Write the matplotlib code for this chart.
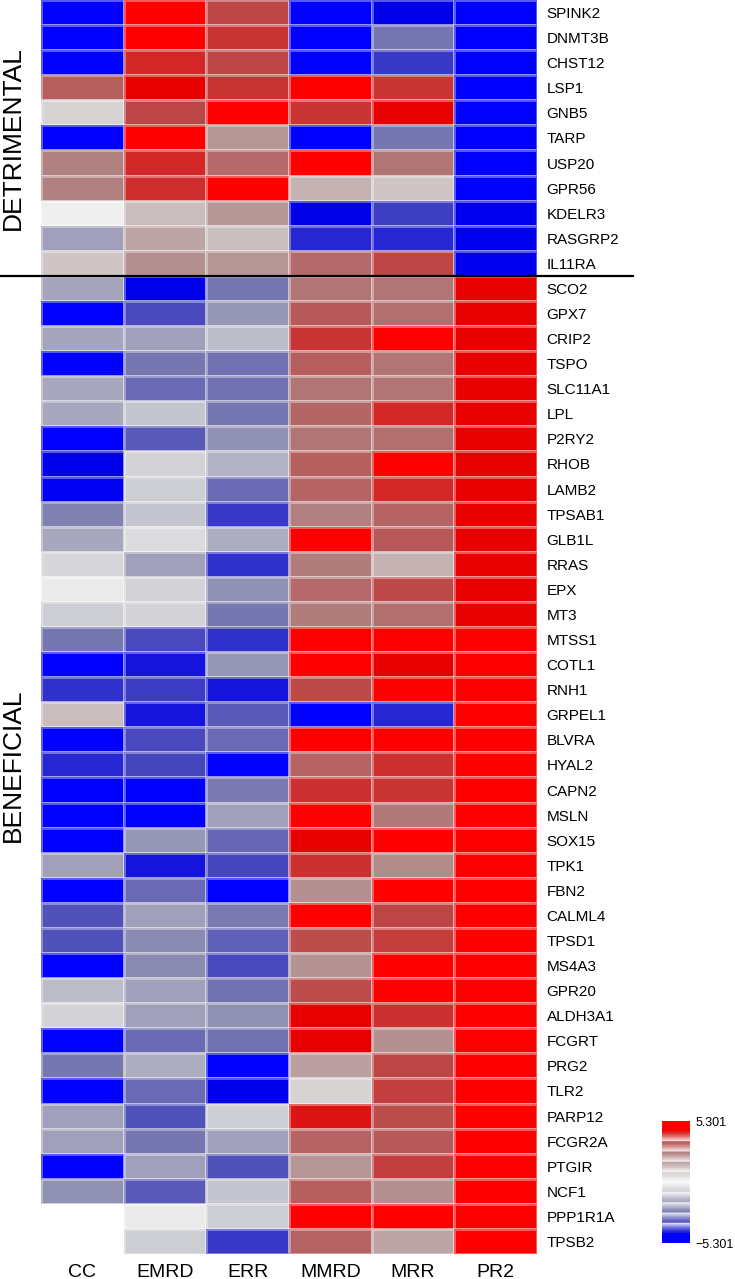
import numpy as np
import matplotlib
matplotlib.use("Agg")
import matplotlib.pyplot as plt
from matplotlib.colors import LinearSegmentedColormap

plt.rcParams['font.family'] = ['Liberation Sans', 'DejaVu Sans']

VMAX = 5.301
columns = ["CC", "EMRD", "ERR", "MMRD", "MRR", "PR2"]

detrimental_genes = ["SPINK2", "DNMT3B", "CHST12", "LSP1", "GNB5", "TARP",
                     "USP20", "GPR56", "KDELR3", "RASGRP2", "IL11RA"]
beneficial_genes = ["SCO2", "GPX7", "CRIP2", "TSPO", "SLC11A1", "LPL", "P2RY2",
                    "RHOB", "LAMB2", "TPSAB1", "GLB1L", "RRAS", "EPX", "MT3",
                    "MTSS1", "COTL1", "RNH1", "GRPEL1", "BLVRA", "HYAL2", "CAPN2",
                    "MSLN", "SOX15", "TPK1", "FBN2", "CALML4", "TPSD1", "MS4A3",
                    "GPR20", "ALDH3A1", "FCGRT", "PRG2", "TLR2", "PARP12", "FCGR2A",
                    "PTGIR", "NCF1", "PPP1R1A", "TPSB2"]

# scores as fractions of the scale limit (VMAX); columns CC, EMRD, ERR, MMRD, MRR, PR2
detrimental_scores = [
    [-1.00, 1.00, 0.70, -1.00, -0.90, -1.00],
    [-1.00, 1.00, 0.75, -1.00, -0.50, -1.00],
    [-1.00, 0.80, 0.70, -1.00, -0.75, -1.00],
    [0.60, 0.90, 0.75, 1.00, 0.75, -1.00],
    [0.10, 0.70, 1.00, 0.75, 0.90, -1.00],
    [-1.00, 1.00, 0.35, -1.00, -0.50, -1.00],
    [0.45, 0.80, 0.55, 1.00, 0.50, -1.00],
    [0.45, 0.78, 1.00, 0.22, 0.15, -1.00],
    [0.00, 0.18, 0.35, -0.90, -0.72, -0.93],
    [-0.30, 0.28, 0.18, -0.80, -0.80, -0.93],
    [0.15, 0.38, 0.35, 0.55, 0.70, -0.93],
]
beneficial_scores = [
    [-0.28, -0.92, -0.50, 0.50, 0.50, 0.90],
    [-1.00, -0.68, -0.35, 0.62, 0.53, 0.90],
    [-0.28, -0.30, -0.18, 0.75, 1.00, 0.90],
    [-1.00, -0.50, -0.52, 0.60, 0.50, 0.90],
    [-0.27, -0.55, -0.52, 0.50, 0.50, 0.90],
    [-0.27, -0.15, -0.50, 0.57, 0.80, 0.90],
    [-1.00, -0.62, -0.37, 0.50, 0.53, 0.90],
    [-0.92, -0.10, -0.22, 0.60, 1.00, 0.90],
    [-0.95, -0.12, -0.55, 0.58, 0.80, 0.90],
    [-0.45, -0.15, -0.75, 0.45, 0.58, 0.90],
    [-0.27, -0.07, -0.25, 1.00, 0.62, 0.90],
    [-0.08, -0.30, -0.77, 0.47, 0.22, 0.90],
    [-0.02, -0.10, -0.37, 0.55, 0.68, 0.90],
    [-0.12, -0.10, -0.50, 0.47, 0.53, 0.90],
    [-0.50, -0.68, -0.77, 1.00, 1.00, 1.00],
    [-1.00, -0.85, -0.35, 1.00, 0.90, 1.00],
    [-0.77, -0.73, -0.85, 0.68, 1.00, 1.00],
    [0.18, -0.85, -0.62, -1.00, -0.80, 1.00],
    [-1.00, -0.68, -0.55, 1.00, 1.00, 1.00],
    [-0.80, -0.70, -1.00, 0.58, 0.77, 1.00],
    [-1.00, -1.00, -0.48, 0.77, 0.75, 1.00],
    [-1.00, -1.00, -0.30, 1.00, 0.48, 1.00],
    [-1.00, -0.35, -0.57, 0.90, 1.00, 1.00],
    [-0.30, -0.85, -0.70, 0.77, 0.40, 1.00],
    [-1.00, -0.55, -1.00, 0.38, 1.00, 1.00],
    [-0.65, -0.30, -0.48, 1.00, 0.70, 1.00],
    [-0.65, -0.40, -0.60, 0.67, 0.73, 1.00],
    [-1.00, -0.40, -0.68, 0.36, 1.00, 1.00],
    [-0.18, -0.30, -0.52, 0.67, 1.00, 1.00],
    [-0.10, -0.30, -0.37, 0.90, 0.77, 1.00],
    [-1.00, -0.55, -0.52, 0.90, 0.38, 1.00],
    [-0.50, -0.25, -1.00, 0.30, 0.70, 1.00],
    [-1.00, -0.55, -0.92, 0.10, 0.72, 1.00],
    [-0.30, -0.65, -0.12, 0.85, 0.67, 1.00],
    [-0.30, -0.50, -0.30, 0.58, 0.62, 1.00],
    [-1.00, -0.30, -0.65, 0.35, 0.72, 1.00],
    [-0.37, -0.62, -0.15, 0.60, 0.38, 1.00],
    [np.nan, -0.02, -0.12, 1.00, 1.00, 1.00],
    [np.nan, -0.12, -0.75, 0.58, 0.28, 1.00],
]

genes = detrimental_genes + beneficial_genes
data = np.array(detrimental_scores + beneficial_scores, dtype=float) * VMAX

# colormap: blue -> grey-blue -> near white -> grey-red -> red
blue_side = [(0, 0, 255), (0, 0, 230), (40, 40, 210), (70, 70, 190), (95, 95, 182),
             (118, 118, 177), (140, 140, 178), (160, 160, 186), (185, 185, 200),
             (210, 210, 215), (240, 240, 240)]
red_side = [(b, g, r) for (r, g, b) in blue_side[::-1]][1:]
stops = blue_side + red_side
cmap = LinearSegmentedColormap.from_list(
    "rb", [(i / (len(stops) - 1), tuple(c / 255 for c in col)) for i, col in enumerate(stops)])
cmap.set_bad("white")

W, H = 735, 1279
fig = plt.figure(figsize=(W / 100, H / 100), dpi=100)

ax = fig.add_axes([41 / W, 1 - 1254 / H, 496 / W, 1254 / H])
masked = np.ma.masked_invalid(data)
ax.pcolormesh(masked, cmap=cmap, vmin=-VMAX, vmax=VMAX,
              edgecolors=(1, 1, 1, 0.35), linewidth=0.8)
ax.set_xlim(0, len(columns))
ax.set_ylim(len(genes), 0)
ax.set_xticks(np.arange(len(columns)) + 0.5)
ax.set_xticklabels(columns, fontsize=14)
ax.set_yticks(np.arange(len(genes)) + 0.5)
ax.set_yticklabels(genes, fontsize=11)
ax.yaxis.tick_right()
ax.tick_params(axis='both', length=0)
ax.tick_params(axis='y', pad=7)
ax.tick_params(axis='x', pad=7)
for s in ax.spines.values():
    s.set_visible(False)

# separator line between groups
sep_y = 1 - (1254 / H) * len(detrimental_genes) / len(genes)
fig.add_artist(plt.Line2D([0, 633 / W], [sep_y, sep_y], color='black', lw=1.6,
                          transform=fig.transFigure))

# group labels
n = len(genes)
def group_center(start, count):
    return 1 - (1254 / H) * (start + count / 2) / n
fig.text(13 / W, group_center(0, len(detrimental_genes)), "DETRIMENTAL",
         rotation=90, ha='center', va='center', fontsize=19)
fig.text(13 / W, group_center(len(detrimental_genes), len(beneficial_genes)), "BENEFICIAL",
         rotation=90, ha='center', va='center', fontsize=19)

# stepped colour key
cax = fig.add_axes([662 / W, 1 - 1243 / H, 28 / W, 122 / H])
n_bands = 12
sub = 10
band_levels = np.linspace(1, -1, n_bands)
rows_rgb = []
for i, L in enumerate(band_levels):
    base = np.array(cmap((L + 1) / 2)[:3])
    for j in range(sub):
        if i == 0 or i == n_bands - 1:
            f = 0.0
        else:
            t = j / (sub - 1)
            if L < 0:
                t = 1 - t
            f = 0.85 * t ** 1.3
        rows_rgb.append(base * (1 - f) + np.ones(3) * f)
img = np.array(rows_rgb)[:, None, :]
cax.imshow(img, aspect='auto', extent=[0, 1, -VMAX, VMAX], origin='upper')
cax.set_xticks([])
cax.yaxis.tick_right()
cax.set_yticks([VMAX, -VMAX])
cax.set_yticklabels([f"{VMAX:.3f}", f"\u2212{VMAX:.3f}"], fontsize=9)
cax.tick_params(axis='y', length=0, pad=4)
for s in cax.spines.values():
    s.set_visible(False)

fig.savefig("out.png", dpi=100)
